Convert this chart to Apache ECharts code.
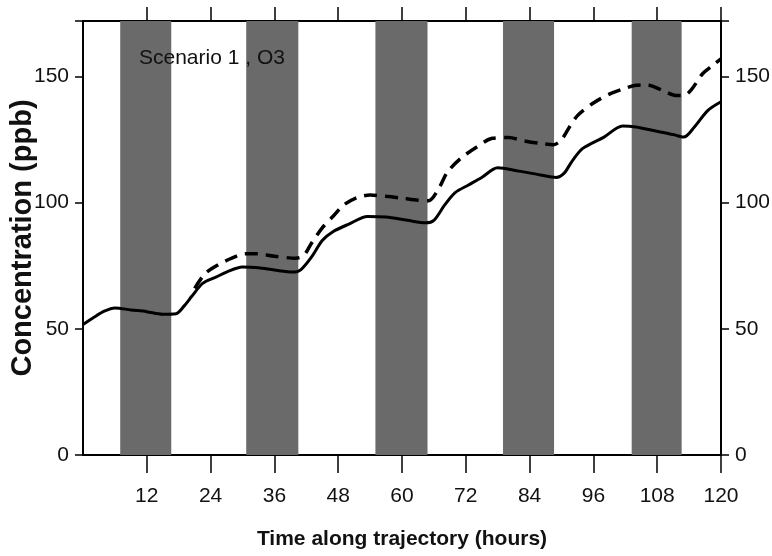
<!DOCTYPE html>
<html>
<head>
<meta charset="utf-8">
<script src="https://cdn.jsdelivr.net/npm/echarts@6/dist/echarts.min.js"></script>
<style>
  html, body { margin: 0; padding: 0; background: #fff; }
  #main { width: 772px; height: 556px; }
</style>
</head>
<body>
<div id="main"></div>
<script>
// hours along trajectory, solid curve
const hours = [0, 2, 4, 6, 9, 12, 15, 17.5, 19, 20.5, 22.5, 25, 27, 30, 33, 36, 39.5, 41, 43, 45, 47, 50, 53.5, 57, 61, 64.5, 66, 68, 70, 72.5, 75, 78, 82, 86, 89, 90.5, 92, 94, 98, 101.5, 104, 107.5, 111, 113, 115, 117.5, 120];
const solidValues = [51.7, 54.5, 57, 58.3, 57.5, 56.8, 55.8, 56, 59, 63, 68, 70.5, 72.5, 74.5, 74.2, 73.3, 72.5, 73.5, 78.5, 85, 88.5, 91.5, 94.5, 94.3, 93, 92, 93, 99, 104, 107, 110, 113.8, 112.5, 111, 110, 111.7, 116.5, 121.5, 126, 130.4, 130, 128.5, 127, 126, 130, 136.5, 140];

// dashed curve
const dashedHours = [21, 23, 25.5, 28, 30.5, 33, 36, 40, 41.5, 43, 45, 47, 49, 51.5, 54, 57, 60, 63, 65, 67, 68.5, 71, 74, 77, 80, 83, 86, 88.5, 90, 91.5, 93, 96, 99, 101.5, 104, 106, 109, 111.5, 113, 114.5, 116.5, 118.5, 120];
const dashedValues = [66, 72, 75.5, 78, 79.8, 79.7, 78.8, 78, 79, 84, 90, 94.5, 99, 102, 103, 102.5, 101.8, 101, 100.8, 106, 112, 117.5, 122, 125.5, 125.8, 124.5, 123.5, 123, 125, 130, 134.5, 139.5, 143, 145, 146.5, 146.7, 144.5, 142.5, 142.5, 145, 151, 154.5, 157];

// night periods (shaded)
const nightStart = [7, 30.7, 55, 79, 103.2];
const nightEnd = [16.6, 40.5, 64.8, 88.6, 112.6];

const xTicks = [12, 24, 36, 48, 60, 72, 84, 96, 108, 120];
const yTicks = [0, 50, 100, 150];

const font = "'Liberation Sans', Arial, sans-serif";

const chart = echarts.init(document.getElementById('main'));

function yAxisBase() {
    return {
        type: 'value',
        min: 0,
        max: 172,
        interval: 50,
        splitLine: { show: false },
        axisLine: { show: true, onZero: false, lineStyle: { color: '#000', width: 2 } },
        axisTick: { show: true, inside: false, length: 8, lineStyle: { color: '#000', width: 1.5 } },
        axisLabel: { customValues: yTicks.slice(), color: '#111', fontSize: 21, fontFamily: font, margin: 14 }
    };
}

const option = {
    backgroundColor: '#fff',
    animation: false,
    title: {
        text: 'Scenario 1 , O3',
        left: 134,
        top: 43,
        textStyle: { fontSize: 21, fontWeight: 'normal', color: '#111', fontFamily: font }
    },
    grid: { left: 83, right: 51, top: 21, bottom: 101, outerBoundsMode: 'none', containLabel: false },
    xAxis: [{
        type: 'value',
        min: 0,
        max: 120,
        name: 'Time along trajectory (hours)',
        nameLocation: 'middle',
        nameGap: 74,
        nameMoveOverlap: false,
        nameTextStyle: { fontSize: 21, fontWeight: 'bold', color: '#111', fontFamily: font },
        splitLine: { show: false },
        axisLine: { onZero: false, lineStyle: { color: '#000', width: 2 } },
        axisTick: { customValues: xTicks, length: 18, lineStyle: { color: '#000', width: 1.5 } },
        axisLabel: { customValues: xTicks, color: '#111', fontSize: 21, fontFamily: font, margin: 31 }
    }, {
        type: 'value',
        position: 'top',
        min: 0,
        max: 120,
        splitLine: { show: false },
        axisLine: { onZero: false, lineStyle: { color: '#000', width: 2 } },
        axisTick: { customValues: xTicks, length: 14, lineStyle: { color: '#000', width: 1.5 } },
        axisLabel: { show: false }
    }],
    yAxis: [Object.assign(yAxisBase(), {
        position: 'left',
        name: 'Concentration (ppb)',
        nameLocation: 'middle',
        nameRotate: 90,
        nameGap: 46,
        nameMoveOverlap: false,
        nameTextStyle: { fontSize: 29, fontWeight: 'bold', color: '#111', fontFamily: font }
    }), Object.assign(yAxisBase(), {
        position: 'right'
    })],
    series: [{
        type: 'line',
        name: 'night',
        data: [],
        z: 1,
        silent: true,
        markArea: {
            silent: true,
            itemStyle: { color: '#6a6a6a' },
            data: nightStart.map((s, i) => [{ xAxis: s }, { xAxis: nightEnd[i] }])
        }
    }, {
        type: 'line',
        name: 'solid',
        z: 3,
        smooth: 0.3,
        showSymbol: false,
        data: hours.map((h, i) => [h, solidValues[i]]),
        lineStyle: { color: '#000', width: 3 }
    }, {
        type: 'line',
        name: 'dashed',
        z: 3,
        smooth: 0.3,
        showSymbol: false,
        data: dashedHours.map((h, i) => [h, dashedValues[i]]),
        lineStyle: { color: '#000', width: 3.5, type: [13, 8] }
    }]
};

chart.setOption(option);
</script>
</body>
</html>
